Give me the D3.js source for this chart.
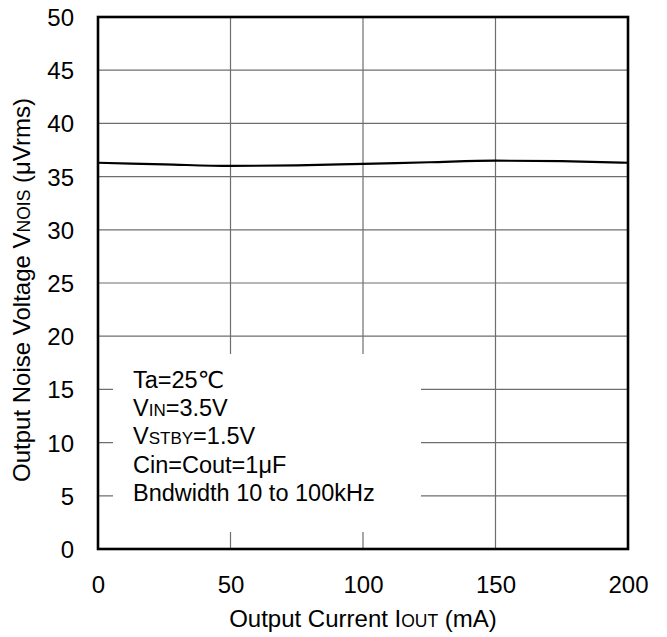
<!DOCTYPE html>
<html>
<head>
<meta charset="utf-8">
<script src="https://cdn.jsdelivr.net/npm/d3@7"></script>
<style>
  html, body { margin: 0; padding: 0; background: #fff; }
  svg { display: block; }
  text { font-family: "Liberation Sans", Arial, Helvetica, "DejaVu Sans", sans-serif; fill: #000; }
</style>
</head>
<body>
<svg id="chart" width="667" height="637"></svg>
<script>
// ---- data ----
const currentMA = [0, 25, 50, 75, 100, 125, 150, 175, 200];
const noiseUV   = [36.3, 36.15, 36.0, 36.05, 36.2, 36.35, 36.5, 36.45, 36.3];
const xTicks = [0, 50, 100, 150, 200];
const yTicks = [0, 5, 10, 15, 20, 25, 30, 35, 40, 45, 50];
const legendLines = [
  [["Ta=25℃", false]],
  [["V", false], ["IN", true], ["=3.5V", false]],
  [["V", false], ["STBY", true], ["=1.5V", false]],
  [["Cin=Cout=1μF", false]],
  [["Bndwidth 10 to 100kHz", false]]
];

const svg = d3.select("#chart");
const L = 98, R = 628, T = 17, B = 549;
const x = d3.scaleLinear().domain([0, 200]).range([L, R]);
const y = d3.scaleLinear().domain([0, 50]).range([B, T]);

// grid
const grid = svg.append("g").attr("stroke", "#6e6e6e").attr("stroke-width", 1.2);
grid.selectAll("line.v").data(xTicks.slice(1, -1)).enter().append("line")
  .attr("x1", d => x(d)).attr("x2", d => x(d)).attr("y1", T).attr("y2", B);
grid.selectAll("line.h").data(yTicks.slice(1, -1)).enter().append("line")
  .attr("x1", L).attr("x2", R).attr("y1", d => y(d)).attr("y2", d => y(d));

// legend white box hiding grid
svg.append("rect").attr("x", 113).attr("y", 354).attr("width", 308).attr("height", 178)
  .attr("fill", "#fff");

// curve
const line = d3.line().x((d, i) => x(currentMA[i])).y(d => y(d)).curve(d3.curveMonotoneX);
svg.append("path").datum(noiseUV).attr("d", line)
  .attr("fill", "none").attr("stroke", "#000").attr("stroke-width", 2.2);

// frame
svg.append("rect").attr("x", L).attr("y", T).attr("width", R - L).attr("height", B - T)
  .attr("fill", "none").attr("stroke", "#000").attr("stroke-width", 2.6);

// axes (labels only)
const xAxis = d3.axisBottom(x).tickValues(xTicks).tickSize(0).tickPadding(0);
const gx = svg.append("g").attr("transform", `translate(0,${B})`).call(xAxis);
gx.select(".domain").remove();
gx.selectAll("text").attr("font-size", 24).attr("dy", null).attr("y", 44)
  .style("font-family", "'Liberation Sans', Arial, sans-serif").attr("fill", "#000");

const yAxis = d3.axisLeft(y).tickValues(yTicks).tickSize(0).tickPadding(0);
const gy = svg.append("g").attr("transform", `translate(74,0)`).call(yAxis);
gy.select(".domain").remove();
gy.selectAll("text").attr("font-size", 24).attr("dy", "0.35em").attr("x", 0)
  .style("font-family", "'Liberation Sans', Arial, sans-serif").attr("fill", "#000");

// axis titles
const xt = svg.append("text").attr("x", 363).attr("y", 627).attr("text-anchor", "middle").attr("font-size", 24);
xt.append("tspan").text("Output Current I");
xt.append("tspan").attr("font-size", 17.5).text("OUT");
xt.append("tspan").text(" (mA)");

const yt = svg.append("text").attr("transform", "translate(30,290) rotate(-90)")
  .attr("text-anchor", "middle").attr("font-size", 24);
yt.append("tspan").text("Output Noise Voltage V");
yt.append("tspan").attr("font-size", 17.5).text("NOIS");
yt.append("tspan").text(" (μVrms)");

// legend text
legendLines.forEach((parts, i) => {
  const t = svg.append("text").attr("x", 133).attr("y", 388 + i * 28.2).attr("font-size", 23.5);
  parts.forEach(([s, small]) => {
    const sp = t.append("tspan").text(s);
    if (small) sp.attr("font-size", 17);
  });
});
</script>
</body>
</html>
